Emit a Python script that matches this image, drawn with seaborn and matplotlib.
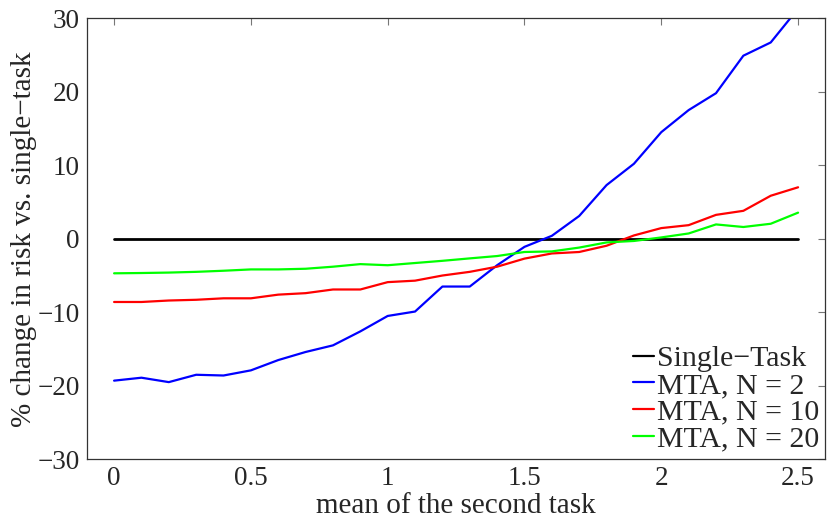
import numpy as np
import pandas as pd
import matplotlib
matplotlib.use('Agg')
import matplotlib.pyplot as plt
import seaborn as sns

# x values: mean of the second task
means = [0.0, 0.1, 0.2, 0.3, 0.4, 0.5, 0.6, 0.7, 0.8, 0.9, 1.0, 1.1, 1.2,
         1.3, 1.4, 1.5, 1.6, 1.7, 1.8, 1.9, 2.0, 2.1, 2.2, 2.3, 2.4, 2.5]

single_task = [0.0] * 26
mta_n2 = [-19.3, -18.9, -19.5, -18.5, -18.6, -17.9, -16.5, -15.4, -14.5, -12.6,
          -10.5, -9.9, -6.5, -6.5, -3.6, -1.1, 0.4, 3.1, 7.3, 10.2,
          14.5, 17.5, 19.8, 24.9, 26.7, 31.3]
mta_n10 = [-8.6, -8.6, -8.4, -8.3, -8.1, -8.1, -7.6, -7.4, -6.9, -6.9,
           -5.9, -5.7, -5.0, -4.5, -3.8, -2.7, -2.0, -1.8, -0.95, 0.45,
           1.45, 1.85, 3.25, 3.8, 5.85, 7.0]
mta_n20 = [-4.7, -4.66, -4.6, -4.5, -4.35, -4.17, -4.17, -4.08, -3.8, -3.45,
           -3.6, -3.3, -3.0, -2.67, -2.35, -1.8, -1.72, -1.2, -0.5, -0.3,
           0.18, 0.72, 1.95, 1.6, 2.04, 3.55]

labels = ['Single\u2212Task', 'MTA, N = 2', 'MTA, N = 10', 'MTA, N = 20']
colors = ['#000000', '#0000ff', '#ff0000', '#00ff00']

df = pd.DataFrame({
    'mean': means * 4,
    'change': single_task + mta_n2 + mta_n10 + mta_n20,
    'method': [l for l in labels for _ in means],
})

sns.set_style('white')
plt.rcParams['font.family'] = ['Liberation Serif', 'DejaVu Serif']

fig = plt.figure(figsize=(8.3, 5.2), dpi=100)
ax = fig.add_axes([0.1045, 0.1167, 0.890, 0.8483])

sns.lineplot(data=df, x='mean', y='change', hue='method', hue_order=labels,
             palette=colors, linewidth=1.6, ax=ax)
# black baseline slightly heavier
ax.get_lines()[0].set_linewidth(2.0)

ax.set_xlim(-0.1, 2.6)
ax.set_ylim(-30, 30)
ax.set_xticks([0, 0.5, 1, 1.5, 2, 2.5])
ax.set_xticklabels(['0', '0.5', '1', '1.5', '2', '2.5'])
ax.set_yticks([-30, -20, -10, 0, 10, 20, 30])
ax.tick_params(direction='in', length=5, width=0.8, color='#777777',
               top=True, right=True, labelsize=19.5, pad=5)
for sp in ax.spines.values():
    sp.set_color('#333333')
    sp.set_linewidth(0.9)

ax.set_xlabel('mean of the second task', fontsize=21, labelpad=1)
ax.set_ylabel('% change in risk vs. single\u2212task', fontsize=21, labelpad=0)

leg = ax.legend(loc='lower right', bbox_to_anchor=(1.0, 0.0), frameon=False,
                fontsize=21.5, handlelength=0.7, handletextpad=0.08,
                labelspacing=0.0, borderaxespad=0.0, borderpad=0.22)

fig.savefig('out.png', dpi=100)
